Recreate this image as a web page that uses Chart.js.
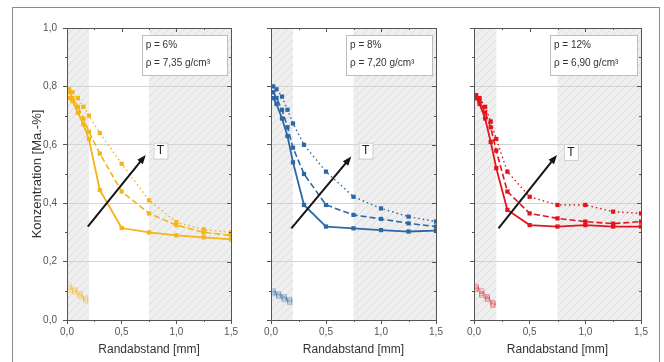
<!DOCTYPE html>
<html>
<head>
<meta charset="utf-8">
<script src="https://cdn.jsdelivr.net/npm/chart.js@4.4.1/dist/chart.umd.min.js"></script>
<style>
    html, body { margin: 0; padding: 0; background: #fff; }
    #wrap { position: relative; width: 664px; height: 362px; overflow: hidden; }
    #frame { position: absolute; left: 12px; top: 7px; width: 646px; height: 400px; border: 1px solid #8c8c8c; }
    canvas { position: absolute; top: 0; }
</style>
</head>
<body>
<div id="wrap">
    <div id="frame"></div>
    <canvas id="c1" width="226" height="362" style="left:14px"></canvas>
    <canvas id="c2" width="200" height="362" style="left:245px"></canvas>
    <canvas id="c3" width="210" height="362" style="left:448px"></canvas>
</div>
<script>
// ---- Daten ----
const depth    = [0.02, 0.05, 0.1, 0.15, 0.2, 0.3, 0.5, 0.75, 1.0, 1.25, 1.5];
const depthLow = [0.02, 0.07, 0.12, 0.17];

// p = 6 %
const p6Solid  = [0.76, 0.75, 0.71, 0.67, 0.62, 0.445, 0.315, 0.300, 0.290, 0.283, 0.276];
const p6Dashed = [0.78, 0.76, 0.73, 0.69, 0.645, 0.57, 0.440, 0.365, 0.325, 0.300, 0.290];
const p6Dotted = [0.79, 0.78, 0.76, 0.73, 0.700, 0.64, 0.535, 0.410, 0.335, 0.310, 0.300];
const p6LowA   = [0.120, 0.105, 0.090, 0.070];
const p6LowB   = [0.110, 0.100, 0.085, 0.065];
const p6LowC   = [0.100, 0.095, 0.080, 0.075];

// p = 8 %
const p8Solid  = [0.76, 0.74, 0.69, 0.63, 0.54, 0.394, 0.320, 0.314, 0.308, 0.303, 0.306];
const p8Dashed = [0.78, 0.76, 0.72, 0.66, 0.59, 0.500, 0.394, 0.360, 0.346, 0.331, 0.320];
const p8Dotted = [0.80, 0.79, 0.765, 0.72, 0.673, 0.600, 0.508, 0.422, 0.382, 0.354, 0.337];
const p8LowA   = [0.100, 0.090, 0.080, 0.065];
const p8LowB   = [0.090, 0.085, 0.075, 0.060];
const p8LowC   = [0.095, 0.080, 0.070, 0.070];

// p = 12 %
const p12Solid  = [0.76, 0.74, 0.69, 0.61, 0.52, 0.377, 0.325, 0.320, 0.325, 0.320, 0.320];
const p12Dashed = [0.76, 0.75, 0.71, 0.66, 0.58, 0.440, 0.365, 0.348, 0.337, 0.330, 0.337];
const p12Dotted = [0.77, 0.76, 0.73, 0.68, 0.62, 0.508, 0.422, 0.394, 0.394, 0.371, 0.365];
const p12LowA   = [0.115, 0.100, 0.080, 0.060];
const p12LowB   = [0.105, 0.090, 0.075, 0.055];
const p12LowC   = [0.110, 0.085, 0.070, 0.050];

// schraffierte Bereiche [von, bis] in mm
const shadeZones = [[0, 0.2], [0.75, 1.5]];

// Pfeil "T": Start / Spitze in Datenkoordinaten, Beschriftung
const arrow6  = [[0.19, 0.32], [0.72, 0.565]];
const arrow8  = [[0.185, 0.314], [0.73, 0.56]];
const arrow12 = [[0.22, 0.314], [0.745, 0.565]];
const tLabel6  = [0.855, 0.58];
const tLabel8  = [0.86, 0.58];
const tLabel12 = [0.87, 0.575];

const info6  = ['p = 6%',  'ρ = 7,35 g/cm³'];
const info8  = ['p = 8%',  'ρ = 7,20 g/cm³'];
const info12 = ['p = 12%', 'ρ = 6,90 g/cm³'];

const FONT = "'Liberation Sans', Arial, sans-serif";

// ---- Schraffur ----
function makeHatch() {
    const c = document.createElement('canvas');
    c.width = 8; c.height = 8;
    const g = c.getContext('2d');
    g.fillStyle = '#efefef';
    g.fillRect(0, 0, 8, 8);
    g.strokeStyle = '#dcdcdc';
    g.lineWidth = 1;
    g.beginPath();
    g.moveTo(0, 8); g.lineTo(8, 0);
    g.moveTo(-1, 1); g.lineTo(1, -1);
    g.moveTo(7, 9); g.lineTo(9, 7);
    g.stroke();
    return c;
}
const hatchTile = makeHatch();

const fmt = v => Number(v).toFixed(1).replace('.', ',');
const pts = (xs, ys) => xs.map((x, i) => ({ x, y: ys[i] }));

const panelDecor = {
    id: 'panelDecor',
    beforeDraw(chart) {
        const { ctx, chartArea: a, scales: { x } } = chart;
        ctx.save();
        ctx.fillStyle = '#fff';
        ctx.fillRect(a.left, a.top, a.width, a.height);
        ctx.fillStyle = ctx.createPattern(hatchTile, 'repeat');
        shadeZones.forEach(([x0, x1]) => {
            const p0 = x.getPixelForValue(x0), p1 = x.getPixelForValue(x1);
            ctx.fillRect(p0, a.top, p1 - p0, a.height);
        });
        ctx.restore();
    },
    afterDatasetsDraw(chart, args, opts) {
        const { ctx, chartArea: a, scales: { x, y } } = chart;
        ctx.save();

        // Rahmen + kleine Ticks
        ctx.strokeStyle = '#555';
        ctx.lineWidth = 1;
        ctx.strokeRect(Math.round(a.left) + 0.5, Math.round(a.top) + 0.5, Math.round(a.width), Math.round(a.height));
        ctx.beginPath();
        for (let v = 0; v <= 1.5001; v += 0.25) {
            const px = Math.round(x.getPixelForValue(v)) + 0.5;
            const len = Math.abs(v * 2 - Math.round(v * 2)) < 1e-6 ? 4 : 2;
            ctx.moveTo(px, a.top); ctx.lineTo(px, a.top + len);
            if (len === 2) { ctx.moveTo(px, a.bottom); ctx.lineTo(px, a.bottom + 2); }
        }
        for (let v = 0; v <= 1.0001; v += 0.1) {
            const py = Math.round(y.getPixelForValue(v)) + 0.5;
            const major = Math.abs(v * 5 - Math.round(v * 5)) < 1e-6;
            ctx.moveTo(a.right, py); ctx.lineTo(a.right - (major ? 4 : 2), py);
            if (!major) { ctx.moveTo(a.left, py); ctx.lineTo(a.left - 2, py); }
        }
        ctx.stroke();

        // Pfeil
        const [s, e] = opts.arrow;
        const x0 = x.getPixelForValue(s[0]), y0 = y.getPixelForValue(s[1]);
        const x1 = x.getPixelForValue(e[0]), y1 = y.getPixelForValue(e[1]);
        const ang = Math.atan2(y1 - y0, x1 - x0);
        ctx.strokeStyle = '#151515';
        ctx.fillStyle = '#151515';
        ctx.lineWidth = 2;
        ctx.beginPath();
        ctx.moveTo(x0, y0);
        ctx.lineTo(x1 - 6 * Math.cos(ang), y1 - 6 * Math.sin(ang));
        ctx.stroke();
        ctx.beginPath();
        ctx.moveTo(x1, y1);
        ctx.lineTo(x1 - 9 * Math.cos(ang) + 3.5 * Math.sin(ang), y1 - 9 * Math.sin(ang) - 3.5 * Math.cos(ang));
        ctx.lineTo(x1 - 9 * Math.cos(ang) - 3.5 * Math.sin(ang), y1 - 9 * Math.sin(ang) + 3.5 * Math.cos(ang));
        ctx.closePath();
        ctx.fill();

        // "T"
        const tx = x.getPixelForValue(opts.tLabel[0]), ty = y.getPixelForValue(opts.tLabel[1]);
        ctx.fillStyle = '#fff';
        ctx.strokeStyle = '#cfcfcf';
        ctx.lineWidth = 1;
        ctx.fillRect(tx - 7, ty - 8, 14, 16);
        ctx.strokeRect(tx - 7 + 0.5, ty - 8 + 0.5, 14, 16);
        ctx.fillStyle = '#222';
        ctx.font = '12px ' + FONT;
        ctx.textAlign = 'center';
        ctx.textBaseline = 'middle';
        ctx.fillText('T', tx, ty + 0.5);

        // Infobox
        const bl = a.left + 0.455 * a.width, br = a.right - 4;
        const bt = a.top + 7, bh = 40;
        ctx.fillStyle = '#fff';
        ctx.fillRect(bl, bt, br - bl, bh);
        ctx.strokeStyle = '#bdbdbd';
        ctx.strokeRect(Math.round(bl) + 0.5, Math.round(bt) + 0.5, Math.round(br - bl), bh);
        ctx.fillStyle = '#333';
        ctx.font = '10px ' + FONT;
        ctx.textAlign = 'left';
        ctx.fillText(opts.info[0], bl + 4, bt + 10);
        ctx.fillText(opts.info[1], bl + 4, bt + 28);
        ctx.restore();
    }
};

function series(xs, ys, color, dash, width) {
    return {
        data: pts(xs, ys),
        showLine: true,
        borderColor: color,
        backgroundColor: color,
        borderWidth: width,
        borderDash: dash,
        pointStyle: 'rect',
        pointRadius: 3,
        pointBorderWidth: 0,
    };
}
function faint(xs, ys, color, dash) {
    return {
        data: pts(xs, ys),
        showLine: true,
        borderColor: color,
        backgroundColor: 'rgba(0,0,0,0)',
        borderWidth: 0.8,
        borderDash: dash,
        pointStyle: 'rect',
        pointRadius: 3,
        pointBorderWidth: 0.8,
    };
}

function makePanel(id, color, fade, sets, low, decor, first, padRight) {
    new Chart(document.getElementById(id), {
        type: 'scatter',
        data: {
            datasets: [
                series(depth, sets[0], color, [], 1.8),
                series(depth, sets[1], color, [6, 3], 1.6),
                series(depth, sets[2], color, [1.5, 3], 1.4),
                faint(depthLow, low[0], fade, []),
                faint(depthLow, low[1], fade, [4, 2]),
                faint(depthLow, low[2], fade, [1, 2]),
            ]
        },
        options: {
            responsive: false,
            animation: false,
            layout: { padding: { left: 0, right: padRight, top: 28, bottom: 0 } },
            plugins: { legend: { display: false }, tooltip: { enabled: false }, panelDecor: decor },
            scales: {
                x: {
                    type: 'linear', min: 0, max: 1.5,
                    afterFit: s => { s.height = 42; },
                    ticks: { stepSize: 0.5, padding: 2, color: '#555', font: { family: FONT, size: 10 }, callback: fmt, maxRotation: 0 },
                    grid: { drawOnChartArea: false, tickLength: 4, tickColor: '#555' },
                    border: { color: '#555' },
                    title: { display: true, text: 'Randabstand [mm]', color: '#333', font: { family: FONT, size: 12 }, padding: { top: 0, bottom: 5 } }
                },
                y: {
                    type: 'linear', min: 0, max: 1.0,
                    afterFit: s => { s.width = first ? 53 : 26; },
                    ticks: { display: first, stepSize: 0.2, padding: 6, color: '#555', font: { family: FONT, size: 10 }, callback: fmt },
                    grid: { color: '#d4d4d4', tickLength: 4, tickColor: '#555' },
                    border: { color: '#555' },
                    title: { display: first, text: 'Konzentration [Ma.-%]', color: '#333', font: { family: FONT, size: 13 }, padding: { top: 16, bottom: 0 } }
                }
            }
        },
        plugins: [panelDecor]
    });
}

makePanel('c1', '#f4b41a', 'rgba(244,180,26,0.45)', [p6Solid, p6Dashed, p6Dotted], [p6LowA, p6LowB, p6LowC],
    { arrow: arrow6, tLabel: tLabel6, info: info6 }, true, 8);
makePanel('c2', '#2c68a3', 'rgba(44,104,163,0.45)', [p8Solid, p8Dashed, p8Dotted], [p8LowA, p8LowB, p8LowC],
    { arrow: arrow8, tLabel: tLabel8, info: info8 }, false, 9);
makePanel('c3', '#e3141c', 'rgba(227,20,28,0.45)', [p12Solid, p12Dashed, p12Dotted], [p12LowA, p12LowB, p12LowC],
    { arrow: arrow12, tLabel: tLabel12, info: info12 }, false, 17);
</script>
</body>
</html>
